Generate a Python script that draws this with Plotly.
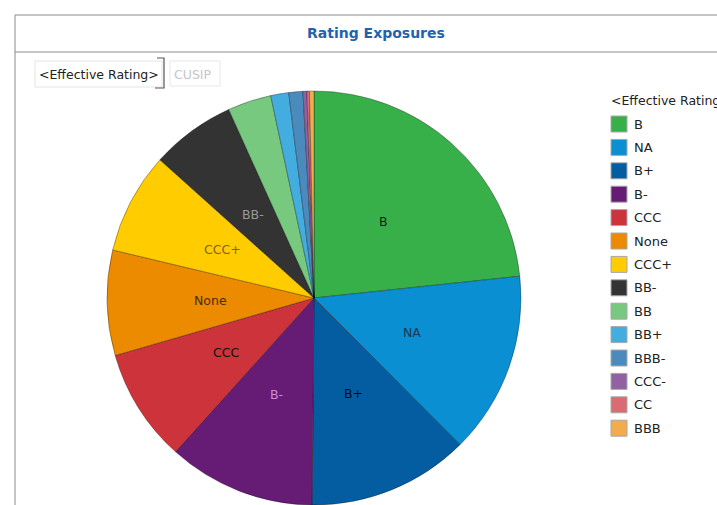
import math
import plotly.graph_objects as go

W, H = 717, 505

ratings = ["B", "NA", "B+", "B-", "CCC", "None", "CCC+", "BB-", "BB", "BB+", "BBB-", "CCC-", "CC", "BBB"]
exposure = [23.3, 14.2, 12.6, 11.5, 8.85, 8.2, 7.9, 6.6, 3.4, 1.4, 1.1, 0.3, 0.2, 0.35]
colors = ["#38b04a", "#0a8fd3", "#035da0", "#661c74", "#cc333a", "#ec8a00", "#ffcc00", "#333333",
          "#76c97f", "#44addf", "#4a8abd", "#9062a2", "#db6b73", "#f2ac4e"]
slice_text = ["B", "NA", "B+", "B-", "CCC", "None", "CCC+", "BB-", "", "", "", "", "", ""]
text_colors = ["#1a1a1a", "#1c3550", "#0a0a0a", "#cf8ad8", "#111111", "#4a2c00", "#7a6630", "#9a9a9a",
               "#000", "#000", "#000", "#000", "#000", "#000"]

FONT = "DejaVu Sans"


def px(x):
    return x / W


def py(y):
    return 1 - y / H


cx, cy, R = 314, 298, 207

fig = go.Figure()
fig.add_trace(go.Pie(
    labels=ratings,
    values=exposure,
    textinfo="none",
    marker=dict(colors=colors, line=dict(color="rgba(0,0,0,0.3)", width=1)),
    sort=False,
    direction="clockwise",
    rotation=0,
    hole=0,
    showlegend=False,
    domain=dict(x=[px(cx - R), px(cx + R)], y=[max(0, py(cy + R)), py(cy - R)]),
))

shapes = []
annotations = []

# slice labels at half radius along each slice bisector (derived from the values)
total = sum(exposure)
cum = 0.0
for v, t, tc in zip(exposure, slice_text, text_colors):
    mid = (cum + v / 2) / total * 2 * math.pi
    cum += v
    if not t:
        continue
    lx = cx + 0.5 * R * math.sin(mid)
    ly = cy - 0.5 * R * math.cos(mid)
    annotations.append(dict(text=t, x=px(lx), y=py(ly), xref="paper", yref="paper",
                            showarrow=False, xanchor="center", yanchor="middle",
                            font=dict(family=FONT, size=12.5, color=tc)))

line_col = "#8a8a8a"
# frame
shapes.append(dict(type="line", xref="paper", yref="paper", x0=px(15), x1=px(15), y0=py(15), y1=py(H + 5),
                   line=dict(color=line_col, width=1)))
shapes.append(dict(type="line", xref="paper", yref="paper", x0=px(15), x1=px(W + 5), y0=py(15), y1=py(15),
                   line=dict(color=line_col, width=1)))
shapes.append(dict(type="line", xref="paper", yref="paper", x0=px(15), x1=px(W + 5), y0=py(52), y1=py(52),
                   line=dict(color=line_col, width=1)))
# buttons
shapes.append(dict(type="rect", xref="paper", yref="paper", x0=px(35), x1=px(162), y0=py(87), y1=py(61),
                   line=dict(color="#e4e4e4", width=1), fillcolor="white"))
shapes.append(dict(type="path", xref="paper", yref="paper",
                   path=f"M {px(157)} {py(58)} L {px(164)} {py(58)} L {px(164)} {py(88)} L {px(155)} {py(88)}",
                   line=dict(color="#555555", width=1.2)))
shapes.append(dict(type="rect", xref="paper", yref="paper", x0=px(170), x1=px(220), y0=py(86), y1=py(61),
                   line=dict(color="#e8e8e8", width=1), fillcolor="white"))

annotations.append(dict(text="<b>Rating Exposures</b>", x=px(376), y=py(33), xref="paper", yref="paper",
                        showarrow=False, xanchor="center", yanchor="middle",
                        font=dict(family=FONT, size=14, color="#1f63ad")))
annotations.append(dict(text="&lt;Effective Rating&gt;", x=px(37), y=py(74), xref="paper", yref="paper",
                        showarrow=False, xanchor="left", yanchor="middle",
                        font=dict(family=FONT, size=12.5, color="#222222")))
annotations.append(dict(text="CUSIP", x=px(172), y=py(74), xref="paper", yref="paper",
                        showarrow=False, xanchor="left", yanchor="middle",
                        font=dict(family=FONT, size=12.5, color="#c6c6c6")))
# legend (manual)
annotations.append(dict(text="&lt;Effective Rating&gt;", x=px(609), y=py(101), xref="paper", yref="paper",
                        showarrow=False, xanchor="left", yanchor="middle",
                        font=dict(family=FONT, size=12.5, color="#222222")))
y0, step = 124, 23.4
for i, (lab, col) in enumerate(zip(ratings, colors)):
    yc = y0 + i * step
    shapes.append(dict(type="rect", xref="paper", yref="paper", x0=px(611), x1=px(627),
                       y0=py(yc + 8), y1=py(yc - 8), fillcolor=col, line=dict(color="#a8a8a8", width=1)))
    annotations.append(dict(text=lab, x=px(632), y=py(yc), xref="paper", yref="paper",
                            showarrow=False, xanchor="left", yanchor="middle",
                            font=dict(family=FONT, size=13, color="#222222")))

fig.update_layout(
    width=W, height=H,
    margin=dict(l=0, r=0, t=0, b=0),
    paper_bgcolor="white",
    plot_bgcolor="white",
    shapes=shapes,
    annotations=annotations,
    showlegend=False,
)

fig.write_html("out.html", config={"displayModeBar": False},
               post_script="document.body.style.margin='0';document.body.style.overflow='hidden';")
